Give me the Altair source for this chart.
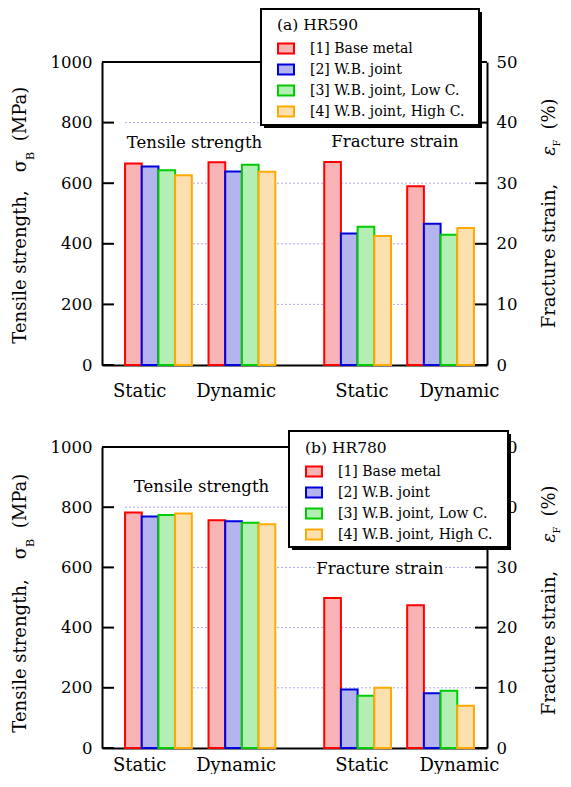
import altair as alt
import pandas as pd

# ---------------- data ----------------
SERIES = ["[1] Base metal", "[2] W.B. joint", "[3] W.B. joint, Low C.", "[4] W.B. joint, High C."]
CONDITIONS = ["Static", "Dynamic"]

HR590_TS_STATIC = [665, 655, 643, 626]
HR590_TS_DYNAMIC = [669, 639, 661, 638]
HR590_FS_STATIC = [33.5, 21.7, 22.8, 21.3]
HR590_FS_DYNAMIC = [29.5, 23.3, 21.5, 22.6]

HR780_TS_STATIC = [782, 769, 774, 779]
HR780_TS_DYNAMIC = [757, 753, 748, 743]
HR780_FS_STATIC = [24.9, 9.7, 8.7, 10.0]
HR780_FS_DYNAMIC = [23.7, 9.1, 9.5, 7.0]

TS_TICKS = [0, 200, 400, 600, 800, 1000]
FS_TICKS = [0, 10, 20, 30, 40, 50]
GRID_VALUES = [200, 400, 600, 800]
X_LABELS = ["Static", "Dynamic", "Static", "Dynamic"]

# ---------------- layout / style ----------------
W = 385
X_DOMAIN = [-0.38, 22.68]
GROUP_POS = [3.0, 8.0, 14.93, 19.9]
LABEL_POS = [1.84, 7.62, 15.16, 21.0]
FILL = ["#f8b4b4", "#b4b4ee", "#b4eeb4", "#fde0b0"]
STROKE = ["#ff0000", "#0000dd", "#00cc00", "#ffaa00"]
FONT = "DejaVu Serif"
TICK_LEN = 12

xs = alt.Scale(domain=X_DOMAIN, nice=False, zero=False)


def label_expr():
    parts = []
    for i in range(len(LABEL_POS) - 1):
        mid = (LABEL_POS[i] + LABEL_POS[i + 1]) / 2
        parts.append(f"datum.value < {mid} ? '{X_LABELS[i]}' : ")
    return "".join(parts) + f"'{X_LABELS[-1]}'"


def bars_df(static, dynamic, slot0):
    rows = []
    for g, vals in enumerate([static, dynamic]):
        for i, v in enumerate(vals):
            x0 = GROUP_POS[slot0 + g] - 2 + i
            rows.append({"series": SERIES[i], "cond": CONDITIONS[g], "value": v,
                         "x0": x0, "x1": x0 + 1})
    return pd.DataFrame(rows)


def panel(name, ts_s, ts_d, fs_s, fs_d, H, lab_pad, ann, leg, title_y):
    ts_scale = alt.Scale(domain=[0, 1000], nice=False)
    fs_scale = alt.Scale(domain=[0, 50], nice=False)
    legend = alt.Legend(
        title=name, orient="none", legendX=leg["lx"], legendY=leg["ly"],
        titleFont=FONT, titleFontSize=15.5, titleFontWeight="normal", titleColor="black",
        titlePadding=6, labelFont=FONT, labelFontSize=14, labelColor="black",
        labelOffset=15, labelLimit=400, symbolType="M-1,-0.62H1V0.62H-1Z",
        symbolSize=256, symbolStrokeWidth=2, rowPadding=3, padding=0,
    )
    fill = alt.Fill("series:N", scale=alt.Scale(domain=SERIES, range=FILL), legend=legend,
                    sort=SERIES)
    stroke = alt.Stroke("series:N", scale=alt.Scale(domain=SERIES, range=STROKE), legend=legend,
                        sort=SERIES)

    xaxis = alt.Axis(values=LABEL_POS, labelExpr=label_expr(), ticks=False, grid=False,
                     domainColor="black", domainWidth=2, labelFont=FONT, labelFontSize=18,
                     labelColor="black", labelPadding=lab_pad, labelFlush=False,
                     labelOverlap=False, title=None, zindex=0)
    laxis = alt.Axis(values=TS_TICKS, ticks=False, grid=False, domainColor="black",
                     domainWidth=2, labelFont=FONT, labelFontSize=16.5, labelColor="black",
                     labelPadding=10, title=None, format="d", zindex=0)
    raxis = alt.Axis(values=FS_TICKS, orient="right", ticks=False, grid=False,
                     domainColor="black", domainWidth=2, labelFont=FONT, labelFontSize=16.5,
                     labelColor="black", labelPadding=9, title=None, format="d", zindex=0)

    def X(field):
        return alt.X(field, scale=xs, axis=xaxis)

    def YL(field):
        return alt.Y(field, scale=ts_scale, axis=laxis)

    def YR(field):
        return alt.Y(field, scale=fs_scale, axis=raxis)

    grid = alt.Chart(pd.DataFrame({"y": GRID_VALUES,
                                   "x0": GROUP_POS[0] - 2, "x1": GROUP_POS[-1] + 2})).mark_rule(
        color="#a8a8f4", strokeDash=[2, 2], strokeWidth=1).encode(
        x=X("x0:Q"), x2="x1:Q", y=YL("y:Q"))

    ts = alt.Chart(bars_df(ts_s, ts_d, 0)).mark_rect(strokeWidth=2).encode(
        x=X("x0:Q"), x2="x1:Q", y=YL("value:Q"), y2=alt.datum(0),
        fill=fill, stroke=stroke)

    lticks = alt.Chart(pd.DataFrame({"y": TS_TICKS})).mark_rule(
        color="black", strokeWidth=2).encode(
        y=YL("y:Q"), x=alt.value(0), x2=alt.value(TICK_LEN))

    ann_ts = pd.DataFrame({"t": ["Tensile strength"], "x": [ann["ts"][0]], "y": [ann["ts"][1]]})
    ts_halo = alt.Chart(ann_ts).mark_text(font=FONT, fontSize=16.5, stroke="white",
                                          strokeWidth=6, color="white").encode(
        x=X("x:Q"), y=YL("y:Q"), text="t:N")
    ts_text = alt.Chart(ann_ts).mark_text(font=FONT, fontSize=16.5, color="black").encode(
        x=X("x:Q"), y=YL("y:Q"), text="t:N")

    left = alt.layer(grid, ts, lticks, ts_halo, ts_text)

    fs = alt.Chart(bars_df(fs_s, fs_d, 2)).mark_rect(strokeWidth=2).encode(
        x=X("x0:Q"), x2="x1:Q", y=YR("value:Q"), y2=alt.datum(0),
        fill=fill, stroke=stroke)

    rticks = alt.Chart(pd.DataFrame({"y": FS_TICKS})).mark_rule(
        color="black", strokeWidth=2).encode(
        y=YR("y:Q"), x=alt.value(W - TICK_LEN), x2=alt.value(W))

    ann_fs = pd.DataFrame({"t": ["Fracture strain"], "x": [ann["fs"][0]], "y": [ann["fs"][1]]})
    fs_halo = alt.Chart(ann_fs).mark_text(font=FONT, fontSize=16.5, stroke="white",
                                          strokeWidth=6, color="white").encode(
        x=X("x:Q"), y=YR("y:Q"), text="t:N")
    fs_text = alt.Chart(ann_fs).mark_text(font=FONT, fontSize=16.5, color="black").encode(
        x=X("x:Q"), y=YR("y:Q"), text="t:N")

    one = pd.DataFrame({"a": [0]})
    top_border = alt.Chart(one).mark_rule(color="black", strokeWidth=2).encode(
        x=alt.value(0), x2=alt.value(W), y=alt.value(0))
    shadow = alt.Chart(one).mark_rect(color="black").encode(
        x=alt.value(leg["bx"] + 3), x2=alt.value(leg["bx"] + leg["bw"] + 3),
        y=alt.value(leg["by"] + 3), y2=alt.value(leg["by"] + leg["bh"] + 3))
    box = alt.Chart(one).mark_rect(fill="white", stroke="black", strokeWidth=2).encode(
        x=alt.value(leg["bx"]), x2=alt.value(leg["bx"] + leg["bw"]),
        y=alt.value(leg["by"]), y2=alt.value(leg["by"] + leg["bh"]))

    def rot_text(txt, x, y, size, align="center", italic=False):
        return alt.Chart(pd.DataFrame({"t": [txt]})).mark_text(
            font=FONT, fontSize=size, angle=270, align=align, baseline="alphabetic",
            color="black", fontStyle="italic" if italic else "normal").encode(
            x=alt.value(x), y=alt.value(y), text="t:N")

    ty = title_y
    titles = [
        rot_text("Tensile strength,", -76, ty["ts"], 18),
        rot_text("σ", -76, ty["sig"], 18),
        rot_text("B", -68, ty["B"], 11),
        rot_text("(MPa)", -76, ty["mpa"], 18),
        rot_text("Fracture strain,", W + 68, ty["fr"], 18),
        rot_text("ε", W + 68, ty["eps"], 18, italic=True),
        rot_text("F", W + 73, ty["F"], 10),
        rot_text("(%)", W + 68, ty["pct"], 18),
    ]

    right = alt.layer(fs, rticks, fs_halo, fs_text, top_border, shadow, box, *titles)

    return alt.layer(left, right).resolve_scale(y="independent").properties(width=W, height=H)


top = panel("(a) HR590", HR590_TS_STATIC, HR590_TS_DYNAMIC, HR590_FS_STATIC, HR590_FS_DYNAMIC,
            303, 17,
            {"ts": (5.16, 734), "fs": (17.17, 36.8)},
            {"lx": 175, "ly": -44, "bx": 159, "by": -53, "bw": 218, "bh": 116},
            {"ts": 205, "sig": 104, "B": 94, "mpa": 52, "fr": 194, "eps": 89, "F": 81, "pct": 52})

bottom = panel("(b) HR780", HR780_TS_STATIC, HR780_TS_DYNAMIC, HR780_FS_STATIC, HR780_FS_DYNAMIC,
               301, 8,
               {"ts": (5.58, 866), "fs": (16.27, 29.7)},
               {"lx": 203, "ly": -6, "bx": 187, "by": -16, "bw": 219, "bh": 116},
               {"ts": 209, "sig": 106, "B": 96, "mpa": 54, "fr": 196, "eps": 91, "F": 83, "pct": 54})

chart = alt.vconcat(top, bottom, spacing=82, bounds="flush").resolve_scale(
    fill="independent", stroke="independent").resolve_legend(
    fill="independent", stroke="independent").properties(
    padding={"top": 0, "left": 4, "right": 0, "bottom": 0}).configure_view(stroke=None)

chart.save("out.html", embed_options={"renderer": "svg", "actions": False})
